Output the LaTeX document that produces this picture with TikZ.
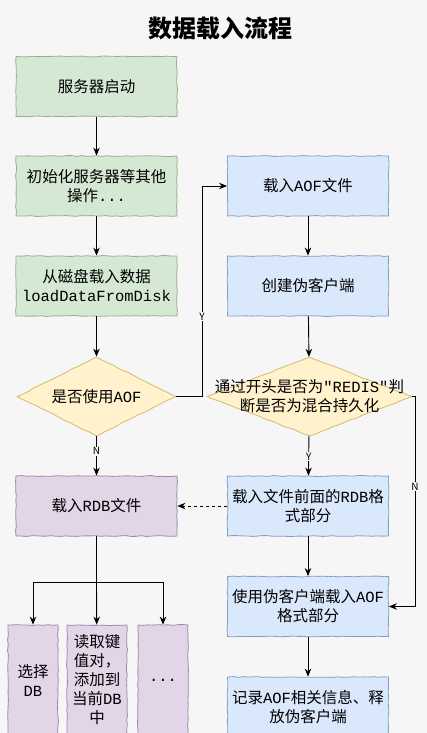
\documentclass[tikz,border=0pt]{standalone}
\usepackage{fontspec}
\setmainfont{Noto Sans CJK SC}
\setmonofont{Liberation Mono}
\usetikzlibrary{shapes.geometric,arrows.meta,decorations.pathmorphing}
\definecolor{bg}{HTML}{F6F6F6}
\definecolor{gfill}{HTML}{D5E8D4}\definecolor{gdraw}{HTML}{94B288}
\definecolor{bfill}{HTML}{DAE8FC}\definecolor{bdraw}{HTML}{849FC6}
\definecolor{pfill}{HTML}{E1D5E7}\definecolor{pdraw}{HTML}{9F88AE}
\definecolor{yfill}{HTML}{FFF2CC}\definecolor{ydraw}{HTML}{D3BA70}
\begin{document}
\begin{tikzpicture}[x=1pt,y=-1pt,
  font=\fontsize{15.5}{19}\selectfont,
  sketch/.style={decorate, decoration={random steps, segment length=5pt, amplitude=0.45pt}},
  box/.style={draw, sketch, line width=0.8pt, minimum width=161pt, minimum height=60pt, inner sep=1pt, align=center},
  gbox/.style={box, fill=gfill, draw=gdraw},
  bbox/.style={box, fill=bfill, draw=bdraw},
  pbox/.style={box, fill=pfill, draw=pdraw},
  sbox/.style={pbox, minimum width=50pt, minimum height=110pt},
  dia/.style={diamond, sketch, draw=ydraw, fill=yfill, line width=0.8pt, minimum width=159pt, minimum height=79pt, inner sep=0pt},
  txt/.style={align=center, inner sep=0pt},
  arr/.style={-{Stealth[length=8pt,width=6.5pt]}, line width=0.9pt},
  lab/.style={fill=bg, font=\fontsize{10}{12}\selectfont, inner sep=1pt}]
\pgfmathsetseed{7}
\useasboundingbox (0,0) rectangle (427,733);
\clip (0,0) rectangle (427,733);
\fill[bg] (0,0) rectangle (427,733);
\node[txt] (title) at (220,28) {\fontsize{24}{28}\selectfont\bfseries 数据载入流程};
\node[gbox] (n1) at (96.5,86.5) {服务器启动};
\node[gbox] (n2) at (96.5,186) {初始化服务器等其他\\操作\texttt{...}};
\node[gbox] (n3) at (96.5,286) {从磁盘载入数据\\\texttt{loadDataFromDisk}};
\node[dia] (d1) at (96.5,396.5) {};
\node[txt] (d1t) at (d1.center) {是否使用\texttt{AOF}};
\node[pbox] (p1) at (96.5,506) {载入\texttt{RDB}文件};
\node[bbox] (b1) at (308,186) {载入\texttt{AOF}文件};
\node[bbox] (b2) at (308,286) {创建伪客户端};
\node[dia, minimum width=205pt] (d2) at (309.5,396.5) {};
\node[txt] (d2t) at (d2.center) {通过开头是否为\texttt{"REDIS"}判\\断是否为混合持久化};
\node[bbox] (b3) at (308,506) {载入文件前面的\texttt{RDB}格\\式部分};
\node[bbox] (b4) at (308,606.5) {使用伪客户端载入\texttt{AOF}\\格式部分};
\node[bbox] (b5) at (308,707) {记录\texttt{AOF}相关信息、释\\放伪客户端};
\node[sbox] (s1) at (33,680) {选择\\\texttt{DB}};
\node[sbox, minimum width=60pt] (s2) at (97,680) {读取键\\值对，\\添加到\\当前\texttt{DB}\\中};
\node[sbox] (s3) at (163,680) {\texttt{...}};
\draw[arr] (n1) -- (n2);
\draw[arr] (n2) -- (n3);
\draw[arr] (n3) -- (d1);
\draw[arr] (d1) -- node[lab, pos=0.38]{N} (p1);
\coordinate (y1) at (202,396.5);
\draw[arr] (d1.east) -- (y1) |- node[lab, pos=0.19]{Y} (b1.west);
\draw[arr] (b1) -- (b2);
\draw[arr] (b2) -- (d2);
\draw[arr] (d2) -- node[lab, pos=0.52]{Y} (b3);
\coordinate (n2c) at (415,396.5);
\draw[arr] (d2.east) -- (n2c) |- node[lab, pos=0.215]{N} (b4.east);
\draw[arr, dashed] (b3.west) -- (p1.east);
\draw[arr] (b3) -- (b4);
\draw[arr] (b4) -- (b5);
\coordinate (br) at (96.5,582);
\draw[line width=0.9pt] (p1) -- (br);
\draw[arr] (br) -| (s1);
\draw[arr] (br) -- (s2);
\draw[arr] (br) -| (s3);
\end{tikzpicture}
\end{document}
